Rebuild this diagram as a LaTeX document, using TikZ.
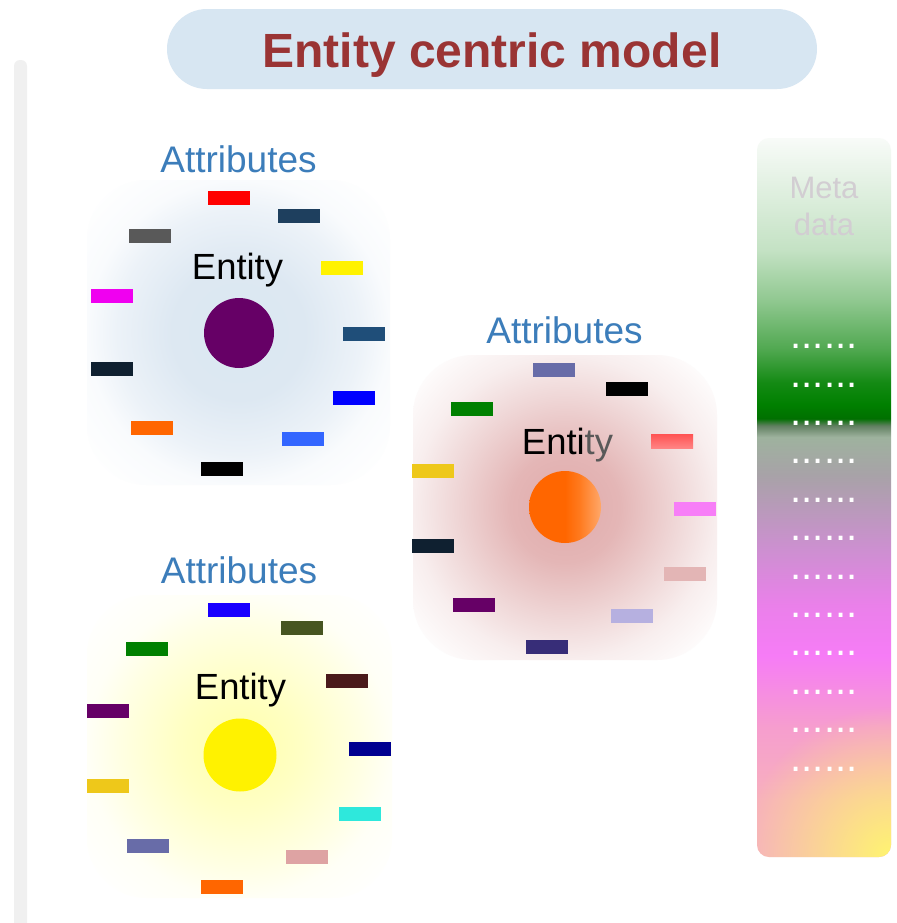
\documentclass[tikz,border=0pt]{standalone}
\usepackage{fontspec}
\setmainfont{Liberation Sans}
\usepackage{xcolor}
\usepackage{tikz}
\usetikzlibrary{positioning,fadings}

\definecolor{titlered}{HTML}{9A3434}
\definecolor{titlefill}{HTML}{D7E6F2}
\definecolor{attrblue}{HTML}{3C7DBA}
\definecolor{leftgray}{HTML}{F0F0F0}
\definecolor{metatext}{HTML}{D2CDD2}
\definecolor{metayellow}{HTML}{FFF570}
\definecolor{plum}{HTML}{660066}
\definecolor{slate}{HTML}{1E3F5E}
\definecolor{steel}{HTML}{1F4E79}
\definecolor{grayish}{HTML}{595959}
\definecolor{hotpink}{HTML}{F000F0}
\definecolor{nightblue}{HTML}{0F2030}
\definecolor{orng}{HTML}{FF6600}
\definecolor{skyblue}{HTML}{3366FF}
\definecolor{lilac}{HTML}{686CA8}
\definecolor{grn}{HTML}{008000}
\definecolor{gold}{HTML}{EEC81A}
\definecolor{orchid}{HTML}{F77EF7}
\definecolor{rosy}{HTML}{E3B5B5}
\definecolor{lavender}{HTML}{B6B0E0}
\definecolor{indigo}{HTML}{372D78}
\definecolor{ultra}{HTML}{1A00FF}
\definecolor{olive}{HTML}{475520}
\definecolor{maroon}{HTML}{4A1A1A}
\definecolor{navy}{HTML}{000090}
\definecolor{aqua}{HTML}{2EE8DC}
\definecolor{dustypink}{HTML}{DEA3A3}
\definecolor{redtop}{HTML}{FF5252}
\definecolor{redbottom}{HTML}{FF8484}

\pgfdeclareradialshading{blueglow}{\pgfpoint{0bp}{0bp}}{color(0bp)=(rgb,255:red,219;green,231;blue,241); color(11bp)=(rgb,255:red,221;green,232;blue,242); color(20bp)=(rgb,255:red,236;green,242;blue,248); color(25bp)=(rgb,255:red,249;green,251;blue,253); color(33bp)=(white); color(50bp)=(white)}
\pgfdeclareradialshading{redglow}{\pgfpoint{0bp}{0bp}}{color(0bp)=(rgb,255:red,224;green,170;blue,170); color(9bp)=(rgb,255:red,228;green,182;blue,182); color(18bp)=(rgb,255:red,239;green,214;blue,214); color(25bp)=(rgb,255:red,248;green,238;blue,238); color(33bp)=(white); color(50bp)=(white)}
\pgfdeclareradialshading{yellowglow}{\pgfpoint{0bp}{0bp}}{color(0bp)=(rgb,255:red,255;green,255;blue,170); color(10bp)=(rgb,255:red,255;green,255;blue,196); color(20bp)=(rgb,255:red,255;green,255;blue,228); color(25bp)=(rgb,255:red,255;green,255;blue,246); color(33bp)=(white); color(50bp)=(white)}
\pgfdeclarehorizontalshading{orangeball}{100bp}{color(0bp)=(orng); color(50bp)=(orng); color(60bp)=(rgb,255:red,255;green,122;blue,30); color(75bp)=(rgb,255:red,255;green,168;blue,106); color(100bp)=(rgb,255:red,255;green,168;blue,106)}
\pgfdeclareverticalshading{metashade}{100bp}{color(0bp)=(rgb,255:red,246;green,176;blue,192); color(25bp)=(rgb,255:red,246;green,176;blue,192); color(29bp)=(rgb,255:red,247;green,176;blue,190); color(34bp)=(rgb,255:red,246;green,158;blue,206); color(39bp)=(rgb,255:red,246;green,124;blue,246); color(42.5bp)=(rgb,255:red,234;green,128;blue,234); color(46.5bp)=(rgb,255:red,204;green,144;blue,208); color(51.5bp)=(rgb,255:red,168;green,162;blue,168); color(54.2bp)=(rgb,255:red,158;green,178;blue,158); color(55bp)=(rgb,255:red,96;green,127;blue,96); color(55.5bp)=(rgb,255:red,0;green,112;blue,0); color(56.5bp)=(rgb,255:red,0;green,128;blue,0); color(58bp)=(rgb,255:red,20;green,138;blue,20); color(60.3bp)=(rgb,255:red,80;green,168;blue,80); color(63.7bp)=(rgb,255:red,144;green,200;blue,144); color(67.2bp)=(rgb,255:red,196;green,226;blue,196); color(75bp)=(rgb,255:red,248;green,251;blue,248); color(100bp)=(rgb,255:red,248;green,251;blue,248)}

\tikzfading[name=cornerfade, inner color=transparent!0, outer color=transparent!100]

\begin{document}
\begin{tikzpicture}[x=0.5pt,y=-0.5pt]
	\tikzstyle{attrbar} = [rectangle, minimum width=21pt, minimum height=7pt, inner sep=0pt]
	\tikzstyle{entdot} = [circle, minimum size=36pt, inner sep=0pt]
	\tikzstyle{attrlabel} = [anchor=base, text=attrblue, font=\fontsize{18.5}{22}\selectfont]
	\tikzstyle{entlabel} = [anchor=base, font=\fontsize{18.2}{22}\selectfont]
	\tikzstyle{dotrow} = [anchor=base, text=white, font=\fontsize{20}{24}\selectfont]
\useasboundingbox (0,0) rectangle (897,923);
\fill[white] (0,0) rectangle (897,923);
\fill[leftgray, rounded corners=3pt] (14,60) rectangle (27,960);
\fill[titlefill, rounded corners=20pt] (167,9) rectangle (817,89);
\node[anchor=base, text=titlered, font=\fontsize{24}{28}\selectfont\bfseries] (title) at (492,67) {Entity centric model};
% glows
\shade[shading=blueglow, rounded corners=30pt] (87,180) rectangle (390,485);
\shade[shading=redglow, rounded corners=30pt] (413,355) rectangle (717,660);
\shade[shading=yellowglow, rounded corners=30pt] (87,595) rectangle (392,898);
% meta data column
\begin{scope}
\clip[rounded corners=6pt] (757,138) rectangle (891,857);
\shade[shading=metashade] (757,138) rectangle (891,857);
\fill[metayellow, path fading=cornerfade] (891,857) circle (150);
\end{scope}
\node[anchor=base, text=metatext, align=center, font=\fontsize{15.5}{18.5}\selectfont] (meta) at (824,235) {Meta\\data};
\node[dotrow] (d1) at (824,348) {......};
\node[dotrow] (d2) at (824,387) {......};
\node[dotrow] (d3) at (824,425) {......};
\node[dotrow] (d4) at (824,463) {......};
\node[dotrow] (d5) at (824,502) {......};
\node[dotrow] (d6) at (824,540) {......};
\node[dotrow] (d7) at (824,579) {......};
\node[dotrow] (d8) at (824,617) {......};
\node[dotrow] (d9) at (824,655) {......};
\node[dotrow] (d10) at (824,694) {......};
\node[dotrow] (d11) at (824,732) {......};
\node[dotrow] (d12) at (824,771) {......};
% first entity
\node[attrlabel] (attr1) at (238.5,172) {Attributes};
\node[entlabel] (lab1) at (237.5,279) {Entity};
\node[entdot, fill=plum, minimum size=35pt] (ent1) at (239,333) {};
\node[attrbar, fill=red] (a1) at (229,198) {};
\node[attrbar, fill=slate] (a2) at (299,216) {};
\node[attrbar, fill=grayish] (a3) at (150,236) {};
\node[attrbar, fill=yellow] (a4) at (342,268) {};
\node[attrbar, fill=hotpink] (a5) at (112,296) {};
\node[attrbar, fill=steel] (a6) at (364,334) {};
\node[attrbar, fill=nightblue] (a7) at (112,369) {};
\node[attrbar, fill=blue] (a8) at (354,398) {};
\node[attrbar, fill=orng] (a9) at (152,428) {};
\node[attrbar, fill=skyblue] (a10) at (303,439) {};
\node[attrbar, fill=black] (a11) at (222,469) {};
% second entity
\node[attrlabel] (attr2) at (564.5,343) {Attributes};
\node[entlabel] (lab2) at (567.5,454) {Enti\textcolor{black!65}{ty}};
\node[entdot, shading=orangeball] (ent2) at (565,507) {};
\node[attrbar, fill=lilac] (b1) at (554,370) {};
\node[attrbar, fill=black] (b2) at (627,389) {};
\node[attrbar, fill=grn] (b3) at (472,409) {};
\node[attrbar, top color=redtop, bottom color=redbottom] (b4) at (672,441) {};
\node[attrbar, fill=gold] (b5) at (433,471) {};
\node[attrbar, fill=orchid] (b6) at (695,509) {};
\node[attrbar, fill=nightblue] (b7) at (433,546) {};
\node[attrbar, fill=rosy] (b8) at (685,574) {};
\node[attrbar, fill=plum] (b9) at (474,605) {};
\node[attrbar, fill=lavender] (b10) at (632,616) {};
\node[attrbar, fill=indigo] (b11) at (547,647) {};
% third entity
\node[attrlabel] (attr3) at (239,583) {Attributes};
\node[entlabel] (lab3) at (240.5,699) {Entity};
\node[entdot, fill=yellow, minimum size=36.5pt] (ent3) at (240,755) {};
\node[attrbar, fill=ultra] (c1) at (229,610) {};
\node[attrbar, fill=olive] (c2) at (302,628) {};
\node[attrbar, fill=grn] (c3) at (147,649) {};
\node[attrbar, fill=maroon] (c4) at (347,681) {};
\node[attrbar, fill=plum] (c5) at (108,711) {};
\node[attrbar, fill=navy] (c6) at (370,749) {};
\node[attrbar, fill=gold] (c7) at (108,786) {};
\node[attrbar, fill=aqua] (c8) at (360,814) {};
\node[attrbar, fill=lilac] (c9) at (148,846) {};
\node[attrbar, fill=dustypink] (c10) at (307,857) {};
\node[attrbar, fill=orng] (c11) at (222,887) {};
\end{tikzpicture}
\end{document}
